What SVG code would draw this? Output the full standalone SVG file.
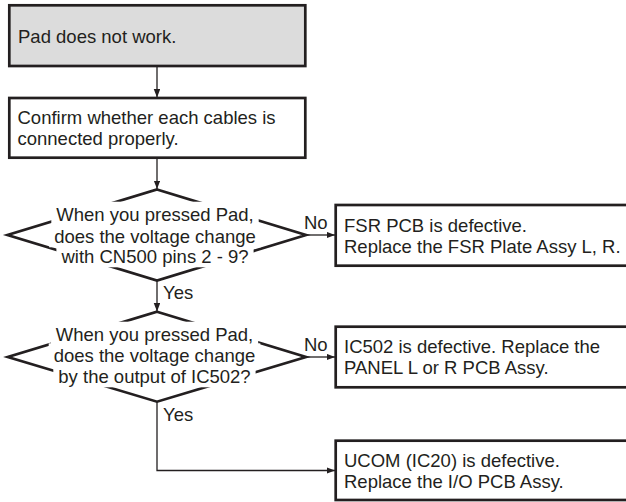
<svg xmlns="http://www.w3.org/2000/svg" width="626" height="502" viewBox="0 0 626 502">
<defs>
<style>
.box{fill:#ffffff;stroke:#231f20;stroke-width:2.7}
.start{fill:#dcdcdc;stroke:#231f20;stroke-width:2.7}
.dia{fill:none;stroke:#231f20;stroke-width:2.7;stroke-linejoin:miter}
.mask{fill:#ffffff;stroke:none}
.t{font-family:"Liberation Sans",Arial,Helvetica,sans-serif;font-size:18.5px;fill:#231f20}
.c{text-anchor:middle}
.con{fill:none;stroke:#231f20;stroke-width:1.3}
.arr{marker-end:url(#ah)}
</style>
<marker id="ah" markerUnits="userSpaceOnUse" markerWidth="9" markerHeight="7" refX="8.5" refY="3.25" orient="auto">
<path d="M0,0 L8.5,3.25 L0,6.5 z" fill="#231f20"/>
</marker>
</defs>
<rect width="626" height="502" fill="#ffffff"/>

<g id="connectors">
<line class="con arr" x1="157" y1="66" x2="157" y2="97.5"/>
<line class="con arr" x1="157" y1="158" x2="157" y2="189"/>
<line class="con arr" x1="157" y1="280.5" x2="157" y2="311.5"/>
<line class="con arr" x1="306" y1="235" x2="335" y2="235"/>
<line class="con arr" x1="306" y1="357" x2="335" y2="357"/>
<polyline class="con arr" points="157,402 157,470.5 335,470.5"/>
<text class="t" x="304" y="229.3">No</text>
<text class="t" x="304" y="351">No</text>
<text class="t" x="163" y="299">Yes</text>
<text class="t" x="163" y="420.7">Yes</text>
</g>

<g id="start">
<rect class="start" x="9.3" y="5.3" width="296" height="60.7"/>
<text class="t" x="18" y="42.7">Pad does not work.</text>
</g>

<g id="confirm">
<rect class="box" x="9.3" y="98" width="296" height="59.7"/>
<text class="t" x="17.5" y="124.3">Confirm whether each cables is</text>
<text class="t" x="17.5" y="145.3">connected properly.</text>
</g>

<g id="decision1">
<polygon class="dia" points="157,189.5 306,235 157,280.5 7.5,235"/>
<rect class="mask" x="51.3" y="201.7" width="207.4" height="23"/>
<rect class="mask" x="49.2" y="224.3" width="211.6" height="23"/>
<rect class="mask" x="56.4" y="244.3" width="197.2" height="23"/>
<text class="t c" x="155" y="220.7">When you pressed Pad,</text>
<text class="t c" x="155" y="243.3">does the voltage change</text>
<text class="t c" x="155" y="263.3">with CN500 pins 2 - 9?</text>
</g>

<g id="fsr">
<rect class="box" x="335.7" y="205" width="300" height="60.7"/>
<text class="t" x="344" y="231.7">FSR PCB is defective.</text>
<text class="t" x="344" y="252.7">Replace the FSR Plate Assy L, R.</text>
</g>

<g id="decision2">
<polygon class="dia" points="157,311.7 306,357 157,401.7 7.8,357"/>
<rect class="mask" x="50.8" y="321.7" width="207.4" height="23"/>
<rect class="mask" x="48.7" y="343.3" width="211.6" height="23"/>
<rect class="mask" x="53.3" y="364.3" width="202.3" height="23"/>
<text class="t c" x="154.5" y="340.7">When you pressed Pad,</text>
<text class="t c" x="154.5" y="362.3">does the voltage change</text>
<text class="t c" x="154.5" y="383.3">by the output of IC502?</text>
</g>

<g id="ic502">
<rect class="box" x="335.7" y="326.7" width="300" height="60.6"/>
<text class="t" x="344" y="353.4">IC502 is defective. Replace the</text>
<text class="t" x="344" y="374.4">PANEL L or R PCB Assy.</text>
</g>

<g id="ucom">
<rect class="box" x="335.7" y="440.7" width="300" height="59.3"/>
<text class="t" x="344" y="467.4">UCOM (IC20) is defective.</text>
<text class="t" x="344" y="488.4">Replace the I/O PCB Assy.</text>
</g>
</svg>
